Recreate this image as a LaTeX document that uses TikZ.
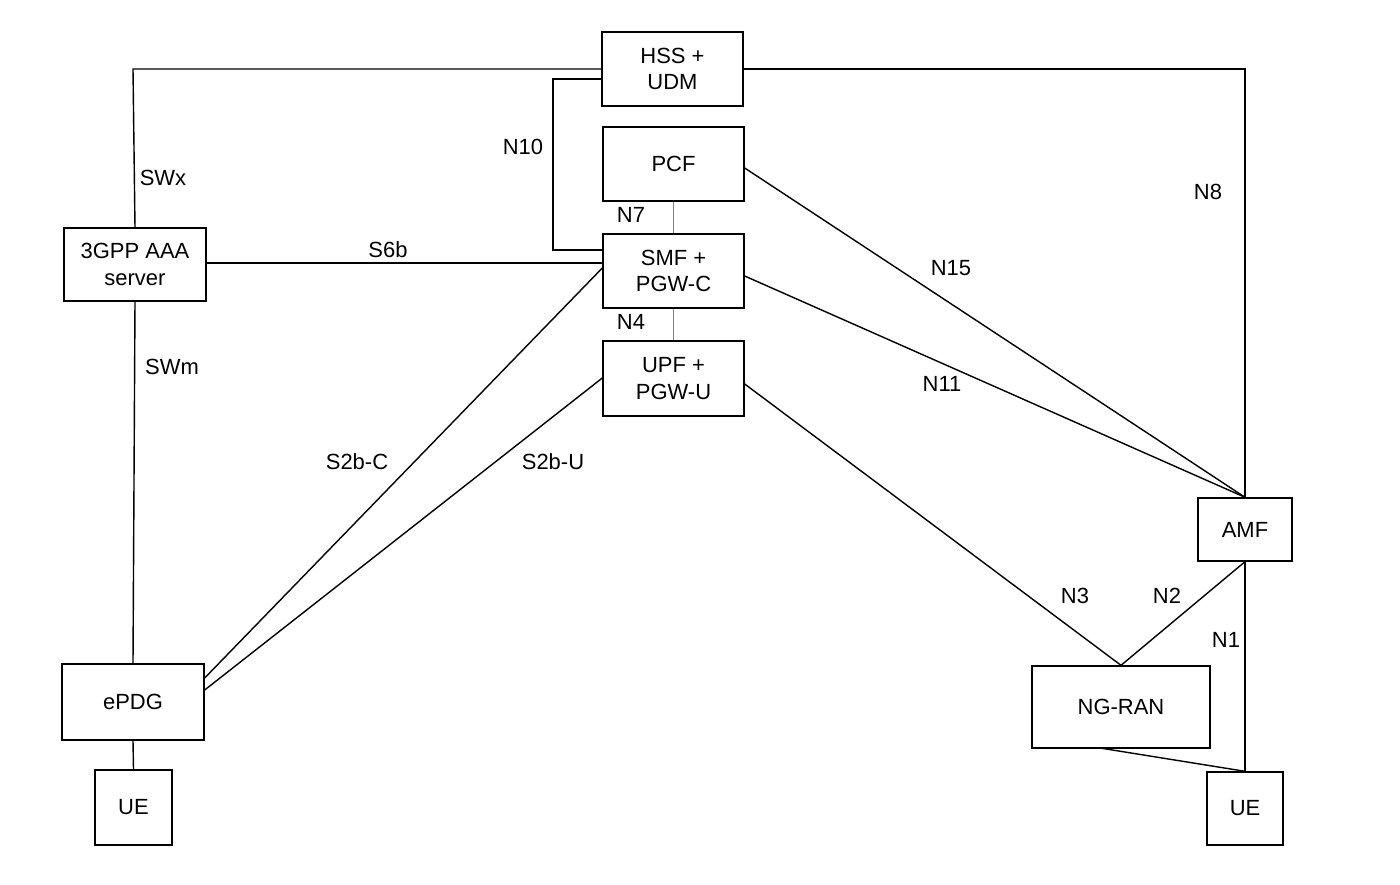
\documentclass[tikz,border=0pt]{standalone}
\usepackage{fontspec}
\setmainfont{Liberation Sans}
\usepackage{tikz}
\usetikzlibrary{positioning}

\begin{document}
\begin{tikzpicture}[x=0.02cm,y=-0.02cm,font=\fontsize{12.5}{15}\selectfont]
                \tikzstyle{nf} = [rectangle, draw=black, thick, align=center, inner sep=0pt]
                \tikzstyle{link} = [thick]
                \tikzstyle{lbl} = [inner sep=0pt]
                \useasboundingbox (0,0) rectangle (1400,885);
                \node (hss) [nf, minimum width=2.82cm, minimum height=1.48cm] at (672.5,69) {HSS +\\UDM};
                \node (pcf) [nf, minimum width=2.82cm, minimum height=1.48cm] at (673.5,164) {PCF};
                \node (smf) [nf, minimum width=2.82cm, minimum height=1.48cm] at (673.5,271) {SMF +\\PGW-C};
                \node (upf) [nf, minimum width=2.82cm, minimum height=1.5cm] at (673.5,378.5) {UPF +\\PGW-U};
                \node (aaa) [nf, minimum width=2.84cm, minimum height=1.46cm] at (135,264.5) {3GPP AAA\\server};
                \node (epdg) [nf, minimum width=2.84cm, minimum height=1.52cm] at (133,702) {ePDG};
                \node (uel) [nf, minimum width=1.54cm, minimum height=1.5cm] at (133.5,807.5) {UE};
                \node (amf) [nf, minimum width=1.88cm, minimum height=1.26cm] at (1245,529.5) {AMF};
                \node (ran) [nf, minimum width=3.56cm, minimum height=1.64cm] at (1121,707) {NG-RAN};
                \node (uer) [nf, minimum width=1.52cm, minimum height=1.46cm] at (1245,808.5) {UE};

                \coordinate (c1) at (133,69);
                \coordinate (c2) at (1245,69);
                \draw [link] (hss.west |- 0,69) -- (c1) -- (aaa.north);
                \draw [link] (hss.east |- 0,69) -- (c2) -- (amf.north);
                \draw [link] (hss.west |- 0,79) -- (553,79) -- (553,250) -- (smf.west |- 0,250);
                \draw [gray] (pcf.south) -- (smf.north);
                \draw [gray] (smf.south) -- (upf.north);
                \draw [link] (aaa.east |- 0,263) -- (smf.west |- 0,263);
                \draw [link] (aaa.south) -- (epdg.north);
                \draw [link] (epdg.south) -- (uel.north);
                \draw [link] (smf.west |- 0,268) -- (epdg.east |- 0,678);
                \draw [link] (upf.west |- 0,378) -- (epdg.east |- 0,690);
                \draw [link] (pcf.east |- 0,168) -- (amf.north);
                \draw [link] (smf.east |- 0,276) -- (amf.north);
                \draw [link] (upf.east |- 0,384) -- (ran.north);
                \draw [link] (amf.south) -- (ran.north);
                \draw [link] (amf.south) -- (uer.north);
                \draw [link] (1100,748) -- (uer.north);

                \node (swx) [lbl] at (163,178) {SWx};
                \node (n8) [lbl] at (1208,192) {N8};
                \node (n10) [lbl] at (523,147) {N10};
                \node (n7) [lbl] at (631,215) {N7};
                \node (n4) [lbl] at (631,322) {N4};
                \node (s6b) [lbl] at (388,250) {S6b};
                \node (swm) [lbl] at (172,367) {SWm};
                \node (s2bc) [lbl] at (357,462) {S2b-C};
                \node (s2bu) [lbl] at (553,462) {S2b-U};
                \node (n15) [lbl] at (951,268) {N15};
                \node (n11) [lbl] at (942,384) {N11};
                \node (n3) [lbl] at (1075,596) {N3};
                \node (n2) [lbl] at (1167,596) {N2};
                \node (n1) [lbl] at (1226,640) {N1};
            \end{tikzpicture}
\end{document}
